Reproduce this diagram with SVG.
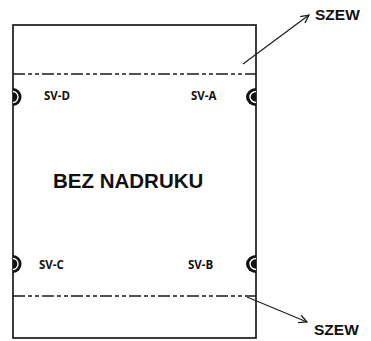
<svg xmlns="http://www.w3.org/2000/svg" width="371" height="341" viewBox="0 0 371 341">
<style>
.frame{fill:#fff;stroke:#1a1a1a;stroke-width:1.7}
.seam{fill:none;stroke:#1a1a1a;stroke-width:1.7;stroke-dasharray:12 3 4 3 4 3}
.conn{fill:none;stroke:#222;stroke-width:1.3}
.lbl{font-family:"Open Sans","Liberation Sans",sans-serif;font-weight:bold;font-size:11.5px;fill:#111}
.big{font-family:"Liberation Sans",Arial,sans-serif;font-weight:bold;fill:#111}
.hole{fill:#111}
.ring{fill:none;stroke:#fff;stroke-width:1.4}
</style>
<defs>
<marker id="arr" viewBox="0 0 10 10" refX="9" refY="5" markerWidth="10" markerHeight="10" markerUnits="userSpaceOnUse" orient="auto">
<path d="M1,1 L9,5 L1,9" fill="none" stroke="#222" stroke-width="1.3"/>
</marker>
</defs>
<g id="sheet">
<rect class="frame" x="13" y="25" width="243" height="313"/>
<line class="seam" x1="13" y1="74" x2="256" y2="74"/>
<line class="seam" x1="13" y1="296" x2="256" y2="296"/>
<text class="big" x="53" y="188" font-size="20.5">BEZ NADRUKU</text>
</g>
<g id="sv-d">
<path class="hole" d="M13,88 A8.5,9 0 0 1 13,106 Z"/>
<path class="ring" d="M13,91.5 A5,5.5 0 0 1 13,102.5"/>
<text class="lbl" x="44" y="100">SV-D</text>
</g>
<g id="sv-a">
<path class="hole" d="M256,88 A10,9 0 0 0 256,106 Z"/>
<path class="ring" d="M256,91.5 A6,5.5 0 0 0 256,102.5"/>
<text class="lbl" x="191" y="100">SV-A</text>
</g>
<g id="sv-c">
<path class="hole" d="M13,255 A8.5,9 0 0 1 13,273 Z"/>
<path class="ring" d="M13,258.5 A5,5.5 0 0 1 13,269.5"/>
<text class="lbl" x="39" y="269">SV-C</text>
</g>
<g id="sv-b">
<path class="hole" d="M256,255 A10,9 0 0 0 256,273 Z"/>
<path class="ring" d="M256,258.5 A6,5.5 0 0 0 256,269.5"/>
<text class="lbl" x="188" y="269">SV-B</text>
</g>
<g id="szew-top">
<text class="big" x="315" y="20" font-size="15.5">SZEW</text>
</g>
<g id="szew-bottom">
<text class="big" x="314" y="335" font-size="15.5">SZEW</text>
</g>
<g id="connectors">
<line class="conn" x1="243" y1="64" x2="309" y2="15" marker-end="url(#arr)"/>
<line class="conn" x1="247" y1="297" x2="307" y2="322" marker-end="url(#arr)"/>
</g>
</svg>
